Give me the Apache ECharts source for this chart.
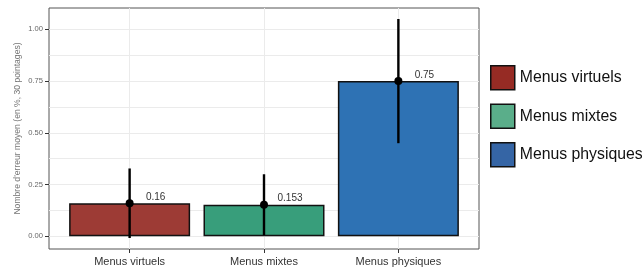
<!DOCTYPE html>
<html>
<head>
<meta charset="utf-8">
<script src="https://cdn.jsdelivr.net/npm/echarts@6/dist/echarts.min.js"></script>
<style>
  html, body { margin: 0; padding: 0; background: #fff; }
  #chart { width: 642px; height: 271px; }
</style>
</head>
<body>
<div id="chart"></div>
<script>
// données
var categories = ['Menus virtuels', 'Menus mixtes', 'Menus physiques'];
var means = [0.16, 0.153, 0.75];
var meanLabels = ['0.16', '0.153', '0.75'];
var errLow = [-0.008, 0.006, 0.45];
var errHigh = [0.328, 0.300, 1.05];
var yMajorTicks = [0, 0.25, 0.5, 0.75, 1];
var yGridTicks = [0, 0.125, 0.25, 0.375, 0.5, 0.625, 0.75, 0.875, 1];
var yTickLabels = ['0.00', '0.25', '0.50', '0.75', '1.00'];

var barColors = ['#9d3b35', '#389e7b', '#2e72b4'];
var legendColors = ['#962b24', '#5aae8a', '#3565a5'];
var font = 'Liberation Sans, Arial, sans-serif';

var chart = echarts.init(document.getElementById('chart'));

var positions = categories.map(function (c, i) { return i + 1; });

var barSeries = categories.map(function (name, i) {
    return {
        name: name,
        type: 'bar',
        barWidth: 121,
        barGap: '-100%',
        data: [[positions[i], means[i]]],
        itemStyle: { color: barColors[i], borderColor: '#111', borderWidth: 1.5 },
        silent: true,
        z: 2
    };
});

var errData = categories.map(function (c, i) { return [positions[i], errLow[i], errHigh[i]]; });
var pointData = categories.map(function (c, i) { return [positions[i], means[i], meanLabels[i]]; });

chart.setOption({
    animation: false,
    textStyle: { fontFamily: font },
    grid: { left: 49, right: 163, top: 8, bottom: 22, show: true, borderColor: '#555', borderWidth: 1, backgroundColor: '#fff' },
    legend: {
        orient: 'vertical',
        left: 490,
        top: 65,
        padding: 0,
        itemWidth: 24,
        itemHeight: 24,
        itemGap: 13,
        icon: 'rect',
        textStyle: { fontSize: 15.8, color: '#111', fontFamily: font },
        data: categories.map(function (name, i) {
            return { name: name, itemStyle: { color: legendColors[i], borderColor: '#111', borderWidth: 1.5 } };
        })
    },
    xAxis: {
        type: 'value',
        min: 0.4,
        max: 3.6,
        axisLine: { show: false, onZero: false },
        axisTick: { show: true, length: 4, lineStyle: { color: '#333' }, customValues: positions },
        axisLabel: {
            customValues: positions,
            fontSize: 11, color: '#333', margin: 7,
            formatter: function (v) { return categories[Math.round(v) - 1] || ''; }
        },
        splitLine: { show: true, lineStyle: { color: '#ebebeb', width: 1 } }
    },
    yAxis: [{
        type: 'value',
        min: -0.061,
        max: 1.103,
        name: "Nombre d'erreur moyen (en %, 30 pointages)",
        nameLocation: 'middle',
        nameGap: 27,
        nameTextStyle: { fontSize: 8.6, color: '#777', fontFamily: font },
        axisLine: { show: false, onZero: false },
        axisTick: { show: false, customValues: yGridTicks },
        axisLabel: { show: false },
        splitLine: { show: true, lineStyle: { color: '#ebebeb', width: 1 } }
    }, {
        type: 'value',
        min: -0.061,
        max: 1.103,
        position: 'left',
        axisLine: { show: false, onZero: false },
        axisTick: { show: true, length: 4, lineStyle: { color: '#333' }, customValues: yMajorTicks },
        axisLabel: {
            customValues: yMajorTicks,
            fontSize: 7.6, color: '#666', margin: 6,
            formatter: function (v) {
                var k = yMajorTicks.indexOf(Math.round(v * 100) / 100);
                return k >= 0 ? yTickLabels[k] : '';
            }
        },
        splitLine: { show: false }
    }],
    series: barSeries.concat([{
        type: 'custom',
        name: 'erreur',
        data: errData,
        z: 5,
        silent: true,
        renderItem: function (params, api) {
            var lo = api.coord([api.value(0), api.value(1)]);
            var hi = api.coord([api.value(0), api.value(2)]);
            return {
                type: 'line',
                shape: { x1: lo[0], y1: lo[1], x2: hi[0], y2: hi[1] },
                style: { stroke: '#000', lineWidth: 2.4 }
            };
        }
    }, {
        type: 'scatter',
        name: 'moyenne',
        data: pointData,
        symbolSize: 8,
        z: 6,
        silent: true,
        itemStyle: { color: '#000', opacity: 1 },
        label: {
            show: true,
            position: 'inside',
            offset: [26, -6],
            fontSize: 10,
            color: '#333',
            formatter: function (p) { return p.data[2]; }
        }
    }])
});
</script>
</body>
</html>
